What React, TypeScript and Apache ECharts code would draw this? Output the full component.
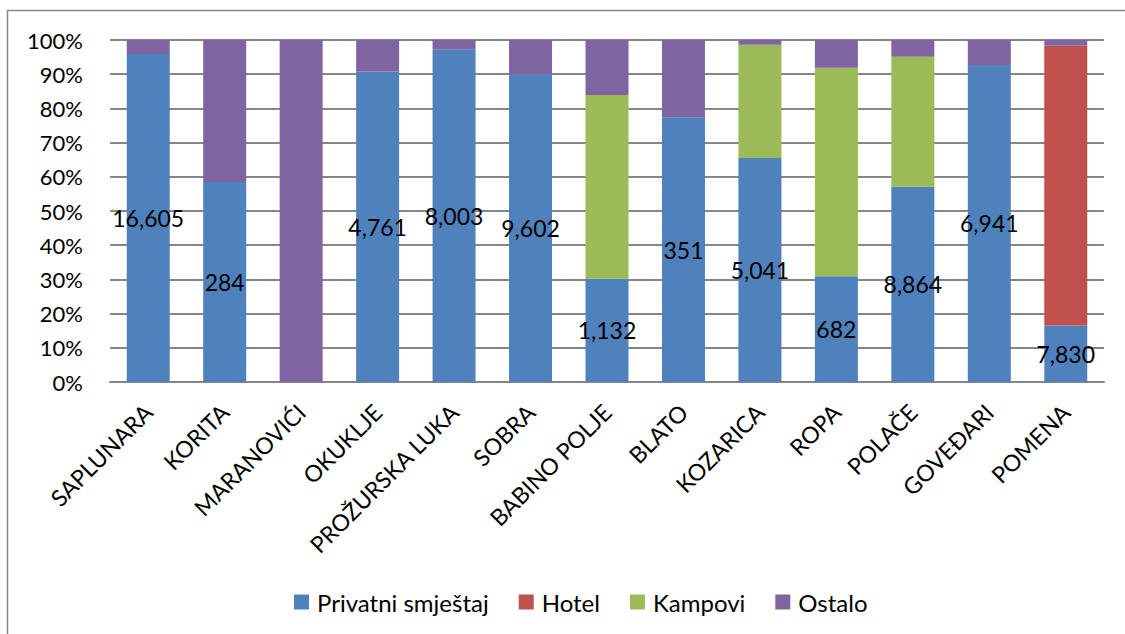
import React, { useEffect, useRef } from "react";
import * as echarts from "echarts";

const categories = [
  "SAPLUNARA",
  "KORITA",
  "MARANOVIĆI",
  "OKUKLJE",
  "PROŽURSKA LUKA",
  "SOBRA",
  "BABINO POLJE",
  "BLATO",
  "KOZARICA",
  "ROPA",
  "POLAČE",
  "GOVEĐARI",
  "POMENA",
];

// shares in percent
const privatniShare = [95.9, 58.5, 0, 90.8, 97.3, 89.9, 30.2, 77.4, 65.5, 30.9, 57.1, 92.7, 16.5];
const hotelShare = [0, 0, 0, 0, 0, 0, 0, 0, 0, 0, 0, 0, 81.8];
const kampoviShare = [0, 0, 0, 0, 0, 0, 53.7, 0, 33.1, 61.0, 38.0, 0, 0];
const ostaloShare = [4.1, 41.5, 100, 9.2, 2.7, 10.1, 16.1, 22.6, 1.4, 8.1, 4.9, 7.3, 1.7];

// data labels shown on the Privatni smještaj segments
const privatniLabels = ["16,605", "284", "", "4,761", "8,003", "9,602", "1,132", "351", "5,041", "682", "8,864", "6,941", "7,830"];

const FONT = "Lato, 'Open Sans', sans-serif";

export default function App() {
  const ref = useRef<HTMLDivElement>(null);

  useEffect(() => {
    if (!ref.current) return;
    const chart = echarts.init(ref.current, null, { renderer: "svg" });
    const base = {
      type: "bar" as const,
      stack: "total",
      barWidth: 43,
    };
    chart.setOption({
      animation: false,
      textStyle: { fontFamily: FONT },
      graphic: [
        {
          type: "polyline",
          shape: { points: [[7.5, 634], [7.5, 10.5], [1125, 10.5]] },
          style: { stroke: "#868686", lineWidth: 1.5, fill: "none" },
          silent: true,
        },
      ],
      grid: { left: 110, right: 21, top: 40, bottom: 252, containLabel: false },
      legend: {
        top: 585,
        left: 289,
        itemWidth: 15,
        itemHeight: 15,
        itemGap: 30,
        icon: "rect",
        textStyle: { fontSize: 24, color: "#000", fontFamily: FONT, padding: [0, 0, 0, 3] },
        data: ["Privatni smještaj", "Hotel", "Kampovi", "Ostalo"],
      },
      xAxis: {
        type: "category",
        data: categories,
        axisLine: { lineStyle: { color: "#868686", width: 2 } },
        axisTick: { show: false },
        axisLabel: {
          rotate: 45,
          interval: 0,
          fontSize: 23,
          color: "#000",
          fontFamily: FONT,
          margin: 26,
        },
      },
      yAxis: {
        type: "value",
        min: 0,
        max: 100,
        interval: 10,
        axisLine: { show: false },
        axisTick: { show: false },
        axisLabel: {
          formatter: "{value}%",
          fontSize: 22,
          color: "#000",
          fontFamily: FONT,
          margin: 27,
        },
        splitLine: { lineStyle: { color: "#868686", width: 2 } },
      },
      series: [
        {
          ...base,
          name: "Privatni smještaj",
          data: privatniShare,
          itemStyle: { color: "#4F81BD" },
          label: {
            show: true,
            position: "inside",
            fontSize: 23,
            color: "#000",
            fontFamily: FONT,
            formatter: (p: any) => privatniLabels[p.dataIndex],
          },
        },
        {
          ...base,
          name: "Hotel",
          data: hotelShare,
          itemStyle: { color: "#C0504D" },
        },
        {
          ...base,
          name: "Kampovi",
          data: kampoviShare,
          itemStyle: { color: "#9BBB59" },
        },
        {
          ...base,
          name: "Ostalo",
          data: ostaloShare,
          itemStyle: { color: "#8064A2" },
        },
      ],
    });
    return () => chart.dispose();
  }, []);

  return (
    <div
      ref={ref}
      style={{ position: "fixed", left: 0, top: 0, width: 1125, height: 634, background: "#fff" }}
    />
  );
}
